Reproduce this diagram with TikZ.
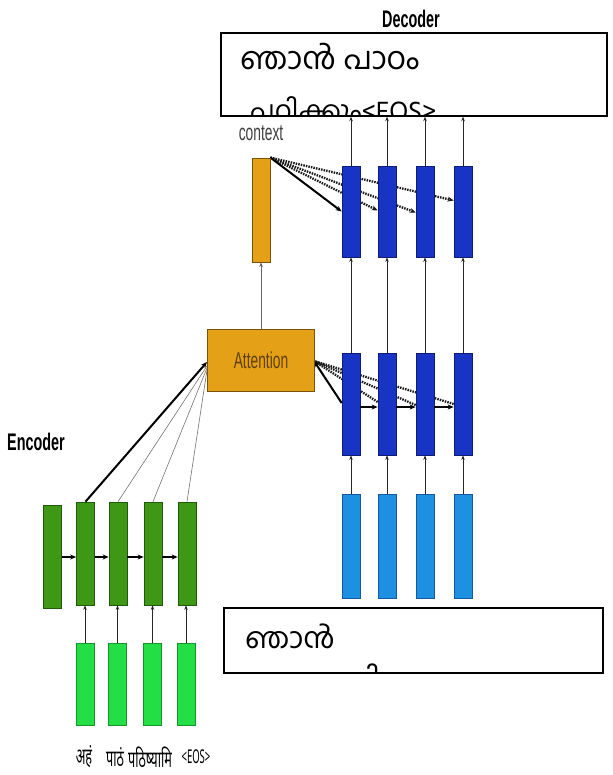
\documentclass[tikz,border=0pt]{standalone}
\usepackage{fontspec}
\usetikzlibrary{arrows.meta,calc}
\newfontfamily\malfont[Script=Malayalam]{Hind Kochi}
\newfontfamily\devfont[Script=Devanagari,FakeStretch=0.55]{Noto Sans}
\newfontfamily\eosfont[FakeStretch=0.5]{Noto Sans}
\newfontfamily\labfont[FakeStretch=0.6]{Liberation Sans}

\definecolor{orangeF}{RGB}{228,160,22}
\definecolor{orangeD}{RGB}{120,82,8}
\definecolor{dblueF}{RGB}{24,52,196}
\definecolor{dblueD}{RGB}{14,28,120}
\definecolor{lblueF}{RGB}{30,144,226}
\definecolor{lblueD}{RGB}{20,88,160}
\definecolor{dgreenF}{RGB}{62,152,22}
\definecolor{dgreenD}{RGB}{30,90,10}
\definecolor{lgreenF}{RGB}{36,222,70}
\definecolor{lgreenD}{RGB}{20,150,40}

\pgfdeclarelayer{paper}
\pgfdeclarelayer{links}
\pgfsetlayers{paper,links,main}

\begin{document}
\begin{tikzpicture}[x=1pt,y=-1pt,
  blk/.style={draw,line width=0.7pt,inner sep=0pt,minimum width=18pt},
  encblk/.style={blk,fill=dgreenF,draw=dgreenD,minimum height=103pt},
  embblk/.style={blk,fill=lgreenF,draw=lgreenD,minimum height=82pt},
  decblk/.style={blk,fill=dblueF,draw=dblueD},
  inblk/.style={blk,fill=lblueF,draw=lblueD,minimum height=104pt},
  orblk/.style={draw=orangeD,fill=orangeF,line width=0.8pt,inner sep=0pt},
  txtbox/.style={draw=black,line width=1.4pt,inner sep=0pt},
  lab/.style={font=\labfont\fontsize{23}{26}\selectfont,inner sep=0pt},
  boldlab/.style={font=\labfont\bfseries\fontsize{24}{27}\selectfont,inner sep=0pt},
  mal/.style={anchor=base west,inner sep=0pt,font=\malfont\fontsize{31}{34}\selectfont},
  word/.style={font=\devfont\fontsize{23}{25}\selectfont,inner sep=0pt},
  thinarr/.style={-{Stealth[length=4.5pt,width=3.5pt]},line width=1pt,black!85},
  thickarr/.style={-{Stealth[length=6pt,width=5pt]},line width=2.2pt,black},
  dotarr/.style={-{Stealth[length=6pt,width=5pt]},line width=2.3pt,black!90,dash pattern=on 1.5pt off 1.1pt},
  fanline/.style={line width=0.6pt,black!55}
]
\begin{pgfonlayer}{paper}
  \fill[white] (0,0) rectangle (612,775);
\end{pgfonlayer}
\useasboundingbox (0,0) rectangle (612,775);

% ---------- text boxes ----------
\node[txtbox,minimum width=386pt,minimum height=83pt] (outbox) at (414,74.5) {};
\node[txtbox,minimum width=379pt,minimum height=65pt] (inbox) at (413.5,640.5) {};
\begin{scope}
  \clip (outbox.south west) rectangle (outbox.north east);
  \node[mal] (outl1) at (240,70) {ഞാൻ പാഠം};
  \node[mal,font=\malfont\fontsize{27}{30}\selectfont] (outl2) at (250,121) {പഠിക്കും<EOS>};
\end{scope}
\begin{scope}
  \clip (inbox.south west) rectangle (inbox.north east);
  \node[mal,font=\malfont\fontsize{29}{34}\selectfont] (inl1) at (245,648) {ഞാൻ};
  \node[mal,font=\malfont\fontsize{29}{34}\selectfont] (inl2) at (250,689) {പാഠം പഠിക്കും};
\end{scope}

% ---------- labels ----------
\node[boldlab] (declab) at (411,19) {Decoder};
\node[boldlab] (enclab) at (36,442) {Encoder};
\node[lab,text=black!75] (ctxlab) at (261,133) {context};

% ---------- encoder ----------
\node[encblk] (e0) at (52.5,556.5) {};
\node[encblk] (e1) at (85.5,553.5) {};
\node[encblk] (e2) at (118,553.5) {};
\node[encblk] (e3) at (153,553.5) {};
\node[encblk] (e4) at (187,553.5) {};

\node[embblk] (g1) at (85,684) {};
\node[embblk] (g2) at (117.5,684) {};
\node[embblk] (g3) at (152.5,684) {};
\node[embblk] (g4) at (186,684) {};

\foreach \i in {1,...,4} {
  \draw[thinarr] (g\i.north) -- (g\i.north |- e\i.south);
}
\draw[thickarr] (e0.east |- 0,557) -- (e1.west |- 0,557);
\draw[thickarr] (e1.east |- 0,557) -- (e2.west |- 0,557);
\draw[thickarr] (e2.east |- 0,557) -- (e3.west |- 0,557);
\draw[thickarr] (e3.east |- 0,557) -- (e4.west |- 0,557);

\node[word] (w1) at (84,757) {अहं};
\node[word] (w2) at (115,757) {पाठं};
\node[word] (w3) at (150,757) {पठिष्यामि};
\node[word,font=\eosfont\fontsize{19}{22}\selectfont] (w4) at (196,757) {<EOS>};

% ---------- attention and context ----------
\node[orblk,minimum width=107pt,minimum height=62pt,font=\labfont\fontsize{23}{26}\selectfont,text=orangeD!80!black] (att) at (261,360) {Attention};
\node[orblk,minimum width=18pt,minimum height=104pt] (ctx) at (261,210) {};

\coordinate (attin) at (207,362);
\draw[fanline] (e2.north) -- (207,366);
\draw[fanline] (e3.north) -- (207,368);
\draw[fanline] (e4.north) -- (207,370);
\draw[thickarr,line width=2pt] (e1.north) -- (attin);
\draw[thinarr,black!60,line width=0.7pt] (att.north) -- (ctx.south);

% ---------- decoder ----------
\foreach \i/\x in {1/351,2/387,3/425,4/463} {
  \node[decblk,minimum height=91pt] (t\i) at (\x,211.5) {};
  \node[decblk,minimum height=102pt] (m\i) at (\x,404) {};
  \node[inblk] (b\i) at (\x,546) {};
}
\foreach \i in {1,...,4} {
  \draw[thinarr] (t\i.north) -- (t\i.north |- outbox.south);
  \draw[thinarr] (m\i.north) -- (t\i.south);
  \draw[thinarr] (b\i.north) -- (m\i.south);
}
\draw[thickarr] (m1.east |- 0,407) -- (m2.west |- 0,407);
\draw[thickarr] (m2.east |- 0,407) -- (m3.west |- 0,407);
\draw[thickarr] (m3.east |- 0,407) -- (m4.west |- 0,407);

% links that pass behind the decoder states
\begin{pgfonlayer}{links}
  % attention over the decoder states
  \coordinate (attout) at (314,361);
  \draw[dotarr,-] ($(m2.west)+(0,-2)$) -- (attout);
  \draw[dotarr,-] ($(m3.west)+(0,1)$) -- (attout);
  \draw[dotarr,-] ($(m4.west)+(0,0)$) -- (attout);
  \draw[thickarr,line width=2pt] ($(m1.west)+(0,-1)$) -- (attout);

  % context fed to every decoder step
  \coordinate (ctxout) at (ctx.north east);
  \draw[dotarr] (ctxout) -- ($(t2.west)+(0,-1)$);
  \draw[dotarr] (ctxout) -- ($(t3.west)+(0,1)$);
  \draw[dotarr] (ctxout) -- ($(t4.west)+(0,-11)$);
  \draw[thickarr,line width=2pt] (ctxout) -- (t1.west);
\end{pgfonlayer}
\end{tikzpicture}
\end{document}
